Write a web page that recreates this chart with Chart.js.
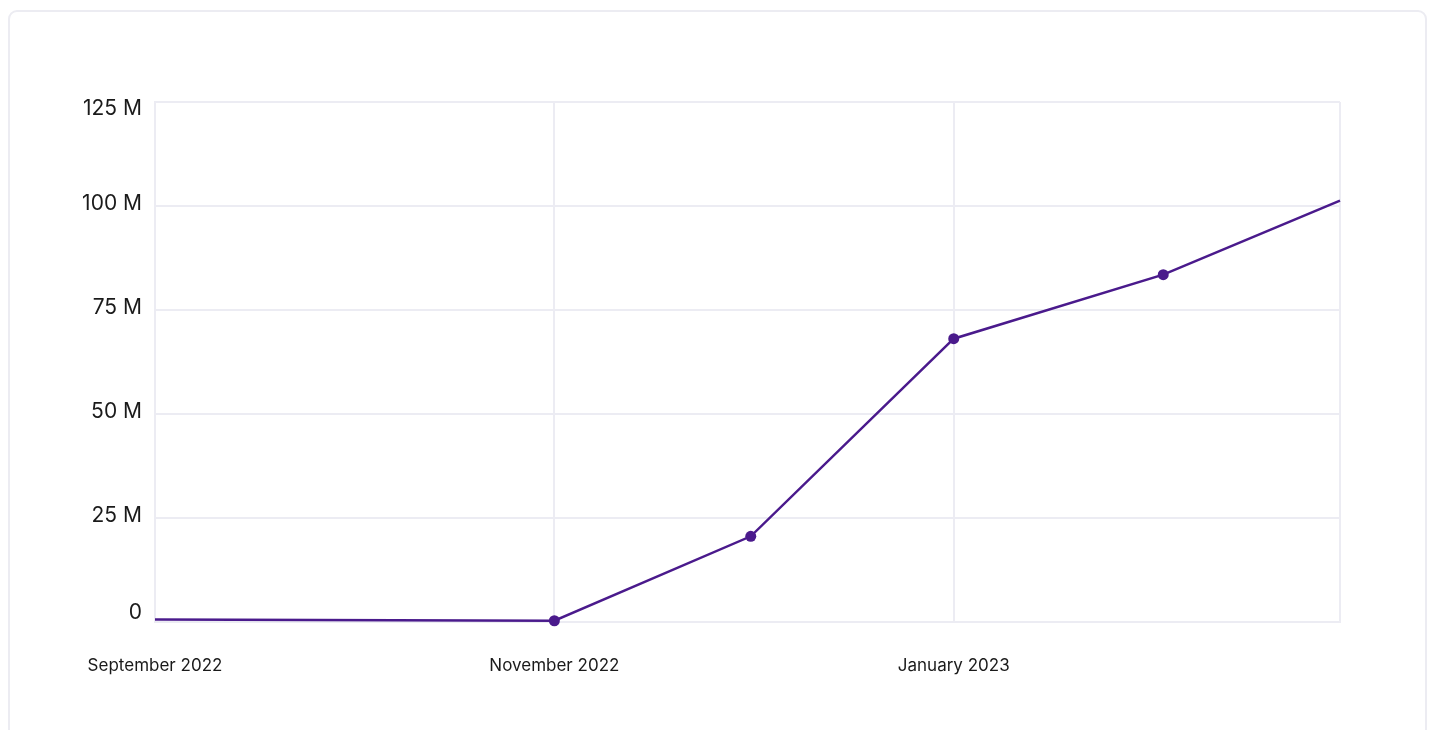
<!DOCTYPE html>
<html>
<head>
<meta charset="utf-8">
<script src="https://cdn.jsdelivr.net/npm/chart.js@4.4.1/dist/chart.umd.min.js"></script>
<style>
  html, body { margin: 0; padding: 0; background: #ffffff; overflow: hidden; }
  #card { position: absolute; left: 8px; top: 10px; width: 1419px; height: 760px;
          border: 2px solid #ececf2; border-radius: 9px; background: #fff; box-sizing: border-box; }
  #wrap { position: absolute; left: 0; top: 0; width: 1433px; height: 730px; }
</style>
</head>
<body>
<div id="card"></div>
<div id="wrap"><canvas id="c"></canvas></div>
<script>
// ---- data ----
const pointDates = ['2022-09-01', '2022-11-01', '2022-12-01', '2023-01-01', '2023-02-02', '2023-03-01'];
const valuesMillions = [0.6, 0.3, 20.6, 68.1, 83.5, 101.3];
const tickDates = ['2022-09-01', '2022-11-01', '2023-01-01', '2023-03-01'];
const tickLabels = ['September 2022', 'November 2022', 'January 2023', ''];
const yTicksMillions = [0, 25, 50, 75, 100, 125];

const DAY = 86400000;
const origin = Date.parse(pointDates[0] + 'T00:00:00Z');
const toDay = s => Math.round((Date.parse(s + 'T00:00:00Z') - origin) / DAY);

const points = pointDates.map((d, i) => ({ x: toDay(d), y: valuesMillions[i] }));
const tickDays = tickDates.map(toDay);

const lineColor = '#4a1a8c';
const gridColor = '#ececf3';

const yLabelShift = {
  id: 'yLabelShift',
  beforeDraw(chart) {
    const s = chart.scales.y;
    const items = s.getLabelItems();
    items.forEach((it, i) => {
      if (it._adj) return;
      const v = s.ticks[i].value;
      let d = -2;
      if (v === yTicksMillions[0]) d = -9;
      if (v === yTicksMillions[yTicksMillions.length - 1]) d = 7;
      it.options.translation = [it.options.translation[0], it.options.translation[1] + d];
      it._adj = true;
    });
  }
};

new Chart(document.getElementById('c'), {
  type: 'line',
  data: {
    datasets: [{
      data: points,
      borderColor: lineColor,
      backgroundColor: lineColor,
      borderWidth: 2.5,
      tension: 0,
      pointRadius: ctx => (ctx.dataIndex === 0 || ctx.dataIndex === points.length - 1) ? 0 : 5.5,
      pointHoverRadius: 6,
      pointBorderWidth: 0,
      pointBackgroundColor: lineColor,
      clip: false
    }]
  },
  options: {
    responsive: true,
    maintainAspectRatio: false,
    animation: false,
    layout: { padding: { top: 102, right: 93, left: 0, bottom: 0 } },
    plugins: { legend: { display: false }, tooltip: { enabled: false } },
    scales: {
      x: {
        type: 'linear',
        min: tickDays[0],
        max: tickDays[tickDays.length - 1],
        afterBuildTicks: s => { s.ticks = tickDays.map(v => ({ value: v })); },
        afterFit: s => { s.height = 108; },
        grid: { color: gridColor, lineWidth: 2, drawTicks: false },
        border: { display: true, color: gridColor, width: 2 },
        ticks: {
          padding: 34,
          autoSkip: false,
          maxRotation: 0,
          color: '#1a1a1a',
          font: { family: 'Inter', size: 17 },
          callback: v => { const i = tickDays.indexOf(v); return i >= 0 ? tickLabels[i] : ''; }
        }
      },
      y: {
        min: yTicksMillions[0],
        max: yTicksMillions[yTicksMillions.length - 1],
        afterBuildTicks: s => { s.ticks = yTicksMillions.map(v => ({ value: v })); },
        afterFit: s => { s.width = 155; },
        grid: { color: gridColor, lineWidth: 2, drawTicks: false },
        border: { display: true, color: gridColor, width: 2 },
        ticks: {
          padding: 13,
          color: '#1a1a1a',
          font: { family: 'Inter', size: 21 },
          callback: v => v === 0 ? '0' : v + ' M'
        }
      }
    }
  },
  plugins: [yLabelShift]
});
</script>
</body>
</html>
